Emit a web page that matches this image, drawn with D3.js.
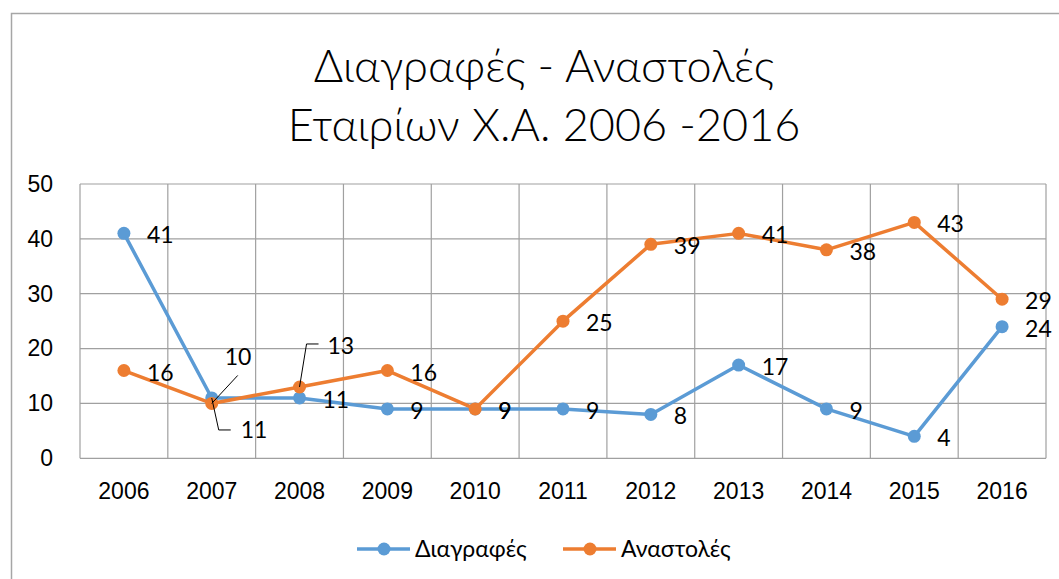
<!DOCTYPE html>
<html>
<head>
<meta charset="utf-8">
<script src="https://cdn.jsdelivr.net/npm/d3@7"></script>
<style>
  body { margin: 0; background: #fff; }
  svg { display: block; font-family: Lato, "Open Sans", "Noto Sans", sans-serif; }
</style>
</head>
<body>
<div id="chart"></div>
<script>
const years = ['2006', '2007', '2008', '2009', '2010', '2011', '2012', '2013', '2014', '2015', '2016'];
const deletions = [41, 11, 11, 9, 9, 9, 8, 17, 9, 4, 24];
const suspensions = [16, 10, 13, 16, 9, 25, 39, 41, 38, 43, 29];
const yTicks = [0, 10, 20, 30, 40, 50];
const seriesNames = ['Διαγραφές', 'Αναστολές'];
const titleLines = ['Διαγραφές - Αναστολές', 'Εταιρίων Χ.Α. 2006 -2016'];

const width = 1059, height = 579;
const plot = {left: 80, right: 1046, top: 184, bottom: 458.3};
const colors = ['#5b9bd5', '#ed7d31'];
const fontSize = 23;

const svg = d3.select('#chart').append('svg')
	.attr('width', width)
	.attr('height', height);

// chart area border
svg.append('rect')
	.attr('x', 11.5).attr('y', 13.5)
	.attr('width', width + 20).attr('height', height + 20)
	.attr('fill', 'none').attr('stroke', '#a6a6a6').attr('stroke-width', 1.5);

svg.selectAll('text.title')
	.data(titleLines)
	.join('text')
	.attr('class', 'title')
	.attr('x', 544)
	.attr('y', (d, i) => 82 + i * 59)
	.attr('text-anchor', 'middle')
	.attr('font-size', 45)
	.attr('font-weight', 300)
	.attr('fill', '#000')
	.text(d => d);

const x = d3.scaleBand().domain(years).range([plot.left, plot.right]);
const y = d3.scaleLinear().domain([0, 50]).range([plot.bottom, plot.top]);
const cx = d => x(d) + x.bandwidth() / 2;

// gridlines
const grid = svg.append('g').attr('stroke', '#a0a0a0').attr('stroke-width', 1.2);
grid.selectAll('line.h')
	.data(yTicks)
	.join('line')
	.attr('x1', plot.left).attr('x2', plot.right)
	.attr('y1', d => y(d)).attr('y2', d => y(d));
grid.selectAll('line.v')
	.data(years.concat(['end']))
	.join('line')
	.attr('x1', (d, i) => plot.left + i * x.bandwidth())
	.attr('x2', (d, i) => plot.left + i * x.bandwidth())
	.attr('y1', plot.top).attr('y2', plot.bottom);

// axes
const yAxis = svg.append('g')
	.attr('transform', `translate(${plot.left},0)`)
	.call(d3.axisLeft(y).tickValues(yTicks).tickSize(0).tickPadding(27));
const xAxis = svg.append('g')
	.attr('transform', `translate(0,${plot.bottom})`)
	.call(d3.axisBottom(x).tickSize(0).tickPadding(24));
[yAxis, xAxis].forEach(a => {
	a.select('.domain').remove();
	a.selectAll('text').attr('font-size', fontSize).attr('fill', '#000').attr('font-family', null);
});

const series = [deletions, suspensions];

const line = d3.line()
	.x((d, i) => cx(years[i]))
	.y(d => y(d));

series.forEach((vals, s) => {
	svg.append('path')
		.datum(vals)
		.attr('fill', 'none')
		.attr('stroke', colors[s])
		.attr('stroke-width', 3.5)
		.attr('stroke-linejoin', 'round')
		.attr('d', line);
	svg.append('g')
		.selectAll('circle')
		.data(vals)
		.join('circle')
		.attr('cx', (d, i) => cx(years[i]))
		.attr('cy', d => y(d))
		.attr('r', 6.5)
		.attr('fill', colors[s]);
});

// data labels; a few are moved off their point with a leader line
const moved = {
	'0-1': {dx: 29, dy: 32, leader: [[0, 0], [7, 32], [19, 32]]},
	'1-1': {dx: 13, dy: -46, leader: [[0, 0], [26, -28]]},
	'1-2': {dx: 28, dy: -41, leader: [[0, 0], [7, -43], [19, -43]]}
};
const labels = svg.append('g').attr('font-size', fontSize).attr('fill', '#000');
series.forEach((vals, s) => {
	vals.forEach((v, i) => {
		const px = cx(years[i]), py = y(v);
		const m = moved[s + '-' + i];
		if (m) {
			labels.append('path')
				.attr('d', d3.line()(m.leader.map(p => [px + p[0], py + p[1]])))
				.attr('fill', 'none').attr('stroke', '#000').attr('stroke-width', 1);
			labels.append('text')
				.attr('x', px + m.dx).attr('y', py + m.dy + 8)
				.text(v);
		} else {
			labels.append('text')
				.attr('x', px + 23).attr('y', py + 10)
				.text(v);
		}
	});
});

// legend
const legendX = [357, 563];
const legend = svg.append('g');
seriesNames.forEach((name, s) => {
	const lx = legendX[s];
	legend.append('line')
		.attr('x1', lx).attr('x2', lx + 53)
		.attr('y1', 549).attr('y2', 549)
		.attr('stroke', colors[s]).attr('stroke-width', 3.5);
	legend.append('circle')
		.attr('cx', lx + 27).attr('cy', 549).attr('r', 6.5)
		.attr('fill', colors[s]);
	legend.append('text')
		.attr('x', lx + 58).attr('y', 557)
		.attr('font-size', fontSize).attr('fill', '#000')
		.text(name);
});
</script>
</body>
</html>
